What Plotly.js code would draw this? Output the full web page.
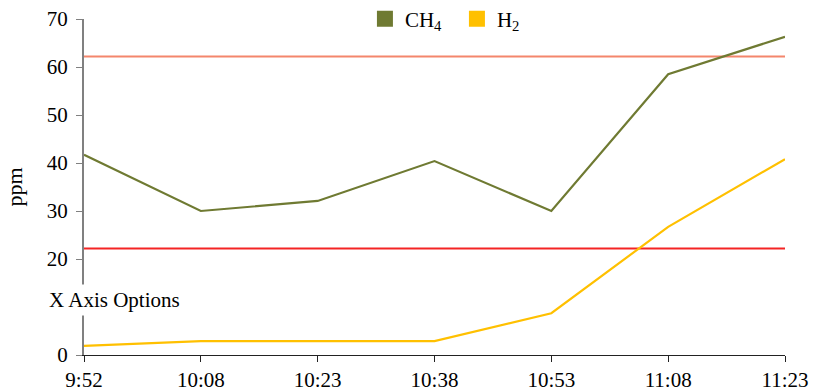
<!DOCTYPE html>
<html><head><meta charset="utf-8">
<script src="https://cdn.plot.ly/plotly-3.0.1.min.js"></script>
<style>html,body{margin:0;padding:0;background:#fff}#chart{width:813px;height:392px}</style>
</head><body><div id="chart"></div>
<script>
const times = ["9:52","10:08","10:23","10:38","10:53","11:08","11:23"];
const ch4 = [41.7, 30.0, 32.1, 40.4, 30.0, 58.5, 66.3];
const h2 = [1.9, 2.9, 2.9, 2.9, 8.7, 26.7, 40.8];
const upperLimit = [62.2, 62.2, 62.2, 62.2, 62.2, 62.2, 62.2];
const lowerLimit = [22.2, 22.2, 22.2, 22.2, 22.2, 22.2, 22.2];
const yTicks = [0, 10, 20, 30, 40, 50, 60, 70];

const fontFam = "Liberation Serif, DejaVu Serif, serif";
const traces = [
  {x: times, y: upperLimit, type: "scatter", mode: "lines", line: {color: "#f4866c", width: 2}, showlegend: false, hoverinfo: "skip"},
  {x: times, y: lowerLimit, type: "scatter", mode: "lines", line: {color: "#f42424", width: 2}, showlegend: false, hoverinfo: "skip"},
  {x: times, y: ch4, type: "scatter", mode: "lines", line: {color: "#6f7a32", width: 2.2}, showlegend: false},
  {x: times, y: h2, type: "scatter", mode: "lines", line: {color: "#ffc000", width: 2.2}, showlegend: false},
  {x: [null], y: [null], type: "scatter", mode: "markers", name: "CH<sub>4</sub>", marker: {symbol: "square", size: 16, color: "#6f7a32"}},
  {x: [null], y: [null], type: "scatter", mode: "markers", name: "H<sub>2</sub>", marker: {symbol: "square", size: 16, color: "#ffc000"}}
];
const layout = {
  width: 813, height: 392,
  margin: {l: 84, r: 28, t: 19, b: 37, pad: 0, autoexpand: false},
  paper_bgcolor: "#fff", plot_bgcolor: "#fff",
  font: {family: fontFam, size: 21, color: "#000"},
  showlegend: true,
  legend: {orientation: "h", x: 0.532, xanchor: "center", y: 1.0, yanchor: "middle", font: {size: 21}, itemsizing: "trace",
    entrywidth: 47, entrywidthmode: "pixels", bgcolor: "rgba(0,0,0,0)", tracegroupgap: 0},
  xaxis: {type: "category", range: [0, 6], showgrid: false, zeroline: false, showline: true, linecolor: "#222", linewidth: 1,
    ticks: "outside", ticklen: 6, tickcolor: "#222", tickfont: {size: 21}, fixedrange: true, automargin: false},
  yaxis: {range: [0, 70], tickvals: yTicks, showgrid: false, zeroline: false, showline: true, linecolor: "#808080", linewidth: 2,
    ticks: "outside", ticklen: 6, tickcolor: "#808080", tickfont: {size: 21}, automargin: false, ticklabelstandoff: 4,
    title: {text: "ppm", font: {size: 22}, standoff: 18}},
  annotations: [{text: "X Axis Options", xref: "paper", yref: "y", x: -0.056, y: 11.5, xanchor: "left", yanchor: "middle",
    showarrow: false, bgcolor: "#fff", font: {size: 21, family: fontFam}, borderpad: 3}]
};
Plotly.newPlot("chart", traces, layout, {staticPlot: true});
</script></body></html>
